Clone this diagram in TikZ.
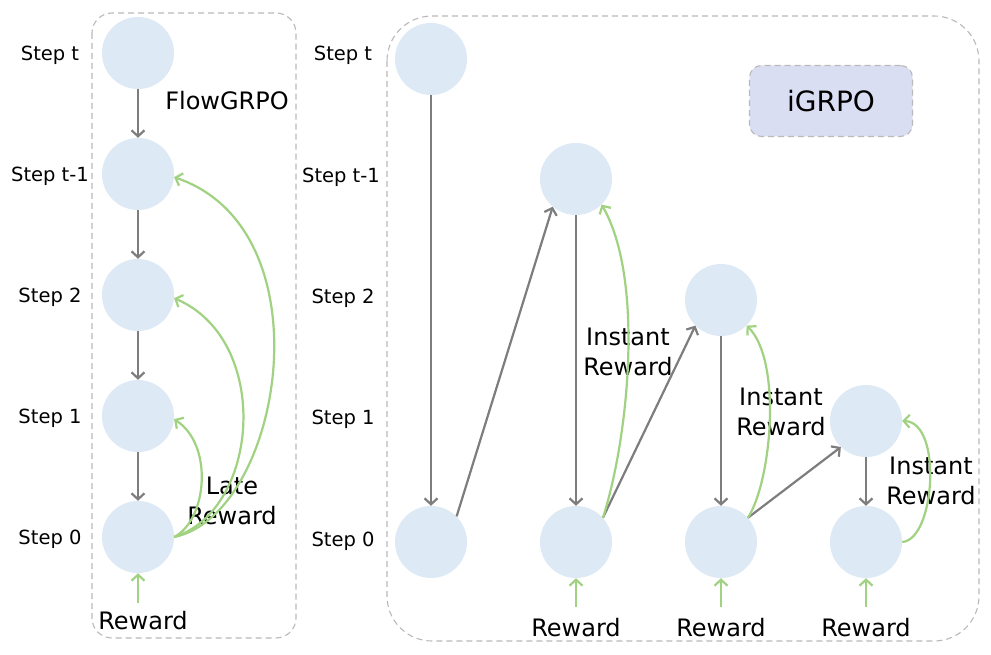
\documentclass[tikz,border=0pt]{standalone}
\usepackage{fontspec}
\setmainfont{DejaVu Sans}
\usetikzlibrary{arrows.meta}
\definecolor{nodefill}{RGB}{221,233,245}
\definecolor{garrow}{RGB}{125,125,125}
\definecolor{greenarr}{RGB}{160,210,130}
\definecolor{boxgray}{RGB}{185,185,185}
\definecolor{tagfill}{RGB}{218,222,242}
\begin{document}
\begin{tikzpicture}[x=1pt,y=-1pt,
  stnode/.style={circle,fill=nodefill,draw=none,minimum size=72pt,inner sep=0pt},
  steplbl/.style={font=\fontsize{19.5}{22}\selectfont,inner sep=0pt},
  biglbl/.style={font=\fontsize{24}{30}\selectfont,align=center,inner sep=0pt},
  grayarr/.style={draw=garrow,line width=2.2pt,-{Straight Barb[length=6pt,width=13pt]}},
  greenar/.style={draw=greenarr,line width=2.2pt,-{Straight Barb[length=6pt,width=13pt]}},
  panel/.style={draw=boxgray,dash pattern=on 6pt off 4pt,line width=1.1pt}
]
\useasboundingbox (0,0) rectangle (991,655);

% panels
\draw[panel,rounded corners=20pt] (92,13) rectangle (296,638);
\draw[panel,rounded corners=45pt] (387,16) rectangle (979,641);
\node[draw=boxgray,dash pattern=on 6pt off 4pt,line width=1.1pt,fill=tagfill,rounded corners=12pt,
  minimum width=163pt,minimum height=71pt,font=\fontsize{28}{32}\selectfont] (tag) at (831,101) {iGRPO};

% left step labels
\node[steplbl] (llt)  at (50,55)  {Step t};
\node[steplbl] (llt1) at (50,176) {Step t-1};
\node[steplbl] (ll2)  at (50,297) {Step 2};
\node[steplbl] (ll1)  at (50,418) {Step 1};
\node[steplbl] (ll0)  at (50,539) {Step 0};
% right step labels
\node[steplbl] (rlt)  at (343,55)  {Step t};
\node[steplbl] (rlt1) at (341,177) {Step t-1};
\node[steplbl] (rl2)  at (343,298) {Step 2};
\node[steplbl] (rl1)  at (343,419) {Step 1};
\node[steplbl] (rl0)  at (343,541) {Step 0};

% left column
\node[stnode] (Lt)  at (138,53) {};
\node[stnode] (Lt1) at (138,174) {};
\node[stnode] (L2)  at (138,295) {};
\node[stnode] (L1)  at (138,416) {};
\node[stnode] (L0)  at (138,537) {};
\node[biglbl] (flow) at (227,101) {FlowGRPO};
\node[biglbl] (late) at (232,501) {Late\\Reward};
\node[biglbl] (lrew) at (143,621) {Reward};
\coordinate (lrs) at (138,603);

\draw[grayarr] (Lt.south) -- (Lt1.north);
\draw[grayarr] (Lt1.south) -- (L2.north);
\draw[grayarr] (L2.south) -- (L1.north);
\draw[grayarr] (L1.south) -- (L0.north);
\draw[greenar] (lrs) -- (L0.south);
\draw[greenar] (L0.east) .. controls (207,520) and (214,445) .. (L1.-5);
\draw[greenar] (L0.east) .. controls (260,510) and (272,340) .. (L2.-5);
\draw[greenar] (L0.east) .. controls (282,515) and (330,230) .. (Lt1.-5);

% right columns
\node[stnode] (At)  at (431,59) {};
\node[stnode] (A0)  at (431,542) {};
\node[stnode] (Bt1) at (576,179) {};
\node[stnode] (B0)  at (576,542) {};
\node[stnode] (C2)  at (721,300) {};
\node[stnode] (C0)  at (721,542) {};
\node[stnode] (D1)  at (866,421) {};
\node[stnode] (D0)  at (866,542) {};

\node[biglbl] (instB) at (628,352) {Instant\\Reward};
\node[biglbl] (instC) at (781,412) {Instant\\Reward};
\node[biglbl] (instD) at (931,481) {Instant\\Reward};
\node[biglbl] (rewB) at (576,628) {Reward};
\node[biglbl] (rewC) at (721,628) {Reward};
\node[biglbl] (rewD) at (866,628) {Reward};
\coordinate (rbs) at (576,607);
\coordinate (rcs) at (721,607);
\coordinate (rds) at (866,607);

\draw[grayarr] (At.south) -- (A0.north);
\draw[grayarr] (A0.45) -- (Bt1.230);
\draw[grayarr] (Bt1.south) -- (B0.north);
\draw[grayarr] (B0.42) -- (C2.225);
\draw[grayarr] (C2.south) -- (C0.north);
\draw[grayarr] (C0.42) -- (D1.226);
\draw[grayarr] (D1.south) -- (D0.north);

\draw[greenar] (B0.42) .. controls (628,440) and (645,280) .. (Bt1.-45);
\draw[greenar] (C0.42) .. controls (772,480) and (782,360) .. (C2.-45);
\draw[greenar] (D0.east) .. controls (935,540) and (943,422) .. (D1.east);

\draw[greenar] (rbs) -- (B0.south);
\draw[greenar] (rcs) -- (C0.south);
\draw[greenar] (rds) -- (D0.south);
\end{tikzpicture}
\end{document}
